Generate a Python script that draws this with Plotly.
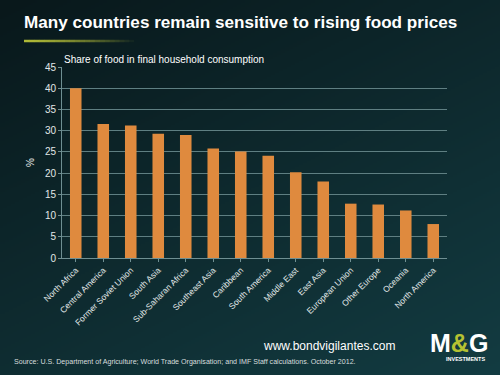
import plotly.graph_objects as go
import numpy as np, zlib, struct, base64

categories = ["North Africa", "Central America", "Former Soviet Union", "South Asia",
              "Sub-Saharan Africa", "Southeast Asia", "Caribbean", "South America",
              "Middle East", "East Asia", "European Union", "Other Europe", "Oceania",
              "North America"]
values = [40.0, 31.6, 31.2, 29.3, 29.0, 25.8, 25.1, 24.1, 20.2, 18.0, 12.8, 12.6, 11.2, 8.0]
y_ticks = [0, 5, 10, 15, 20, 25, 30, 35, 40, 45]

L, R, T, B = 62, 53, 67, 117
PW, PH = 500 - L - R, 375 - T - B

def px(x):
    return (x - L) / PW

def py(y):
    return (375 - B - y) / PH

# background gradient image
W, H = 250, 188
yy, xx = np.mgrid[0:H, 0:W]
t = np.clip(0.6 * yy / H + 0.4 * xx / W, 0, 1)
c0 = np.array([9, 24, 27]); c1 = np.array([19, 60, 66])
img = (c0[None, None, :] * (1 - t[..., None]) + c1[None, None, :] * t[..., None]).astype(np.uint8)
raw = b"".join(b"\x00" + img[r].tobytes() for r in range(H))
def chunk(tag, data):
    return struct.pack(">I", len(data)) + tag + data + struct.pack(">I", zlib.crc32(tag + data) & 0xffffffff)
png = b"\x89PNG\r\n\x1a\n" + chunk(b"IHDR", struct.pack(">IIBBBBB", W, H, 8, 2, 0, 0, 0)) + \
      chunk(b"IDAT", zlib.compress(raw)) + chunk(b"IEND", b"")
uri = "data:image/png;base64," + base64.b64encode(png).decode()

fig = go.Figure()
fig.add_trace(go.Bar(x=categories, y=values, marker=dict(color="#df8a3e", line=dict(width=0)),
                     width=0.42))

font = "Liberation Sans, Arial, sans-serif"
fig.update_layout(
    width=500, height=375,
    margin=dict(l=L, r=R, t=T, b=B, autoexpand=False),
    paper_bgcolor="#0f2e32", plot_bgcolor="rgba(0,0,0,0)",
    showlegend=False,
    font=dict(family=font, color="#e6eaea"),
    images=[dict(source=uri, xref="paper", yref="paper", x=px(0), y=py(0),
                 sizex=500 / PW, sizey=375 / PH,
                 sizing="stretch", layer="below", xanchor="left", yanchor="top")],
    xaxis=dict(tickangle=-45, tickfont=dict(size=8.5, color="#e2e8e8"), showgrid=False,
               showline=True, linecolor="#6f8f92", ticks="outside", ticklen=3, tickcolor="#6f8f92",
               range=[-0.5, 13.5], automargin=False),
    yaxis=dict(range=[0, 45], tickvals=y_ticks, tickfont=dict(size=10, color="#e2e8e8"),
               gridcolor="#5f7f82", gridwidth=1, showline=True, linecolor="#6f8f92",
               ticks="outside", ticklen=3, tickcolor="#6f8f92", zeroline=False, automargin=False,
               title=dict(text="%", font=dict(size=10, color="#e6eaea"), standoff=8)),
    bargap=0.6,
)
fig.add_annotation(text="<b>Many countries remain sensitive to rising food prices</b>", xref="paper", yref="paper",
                   x=px(22), y=py(23), xanchor="left", yanchor="middle", showarrow=False,
                   font=dict(family=font, size=17.1, color="white"))
# underline gradient
n = 22
for i in range(n):
    x0 = 24 + i * 5
    a = max(0.0, 1 - (i / n) ** 1.3)
    fig.add_shape(type="line", xref="paper", yref="paper",
                  x0=px(x0), x1=px(x0 + 5.2), y0=py(41), y1=py(41),
                  line=dict(color=f"rgba(175,185,55,{a:.2f})", width=2.5))
fig.add_annotation(text="Share of food in final household consumption", xref="paper", yref="paper",
                   x=0.0, y=1.0, xanchor="left", yanchor="bottom", showarrow=False,
                   font=dict(size=10, color="white"))
fig.add_annotation(text="www.bondvigilantes.com", xref="paper", yref="paper",
                   x=px(397), y=py(346), xanchor="right", yanchor="middle",
                   showarrow=False, font=dict(size=12, color="white"))
fig.add_annotation(text="Source: U.S. Department of Agriculture; World Trade Organisation; and IMF Staff calculations. October 2012.",
                   xref="paper", yref="paper", x=px(12), y=py(362),
                   xanchor="left", yanchor="middle", showarrow=False, font=dict(size=7.1, color="#d8dede"))
fig.add_annotation(text="<b>M<span style='color:#b5c232'>&</span>G</b>", xref="paper", yref="paper",
                   x=px(459), y=py(343), xanchor="center", yanchor="middle",
                   showarrow=False, font=dict(family=font, size=25, color="white"))
fig.add_annotation(text="<b>INVESTMENTS</b>", xref="paper", yref="paper",
                   x=px(466), y=py(359), xanchor="center", yanchor="middle",
                   showarrow=False, font=dict(size=5.5, color="white"))
fig.write_html("out.html", config={"displayModeBar": False},
               post_script="document.body.style.margin='0';document.body.style.background='#0f2e32';")
